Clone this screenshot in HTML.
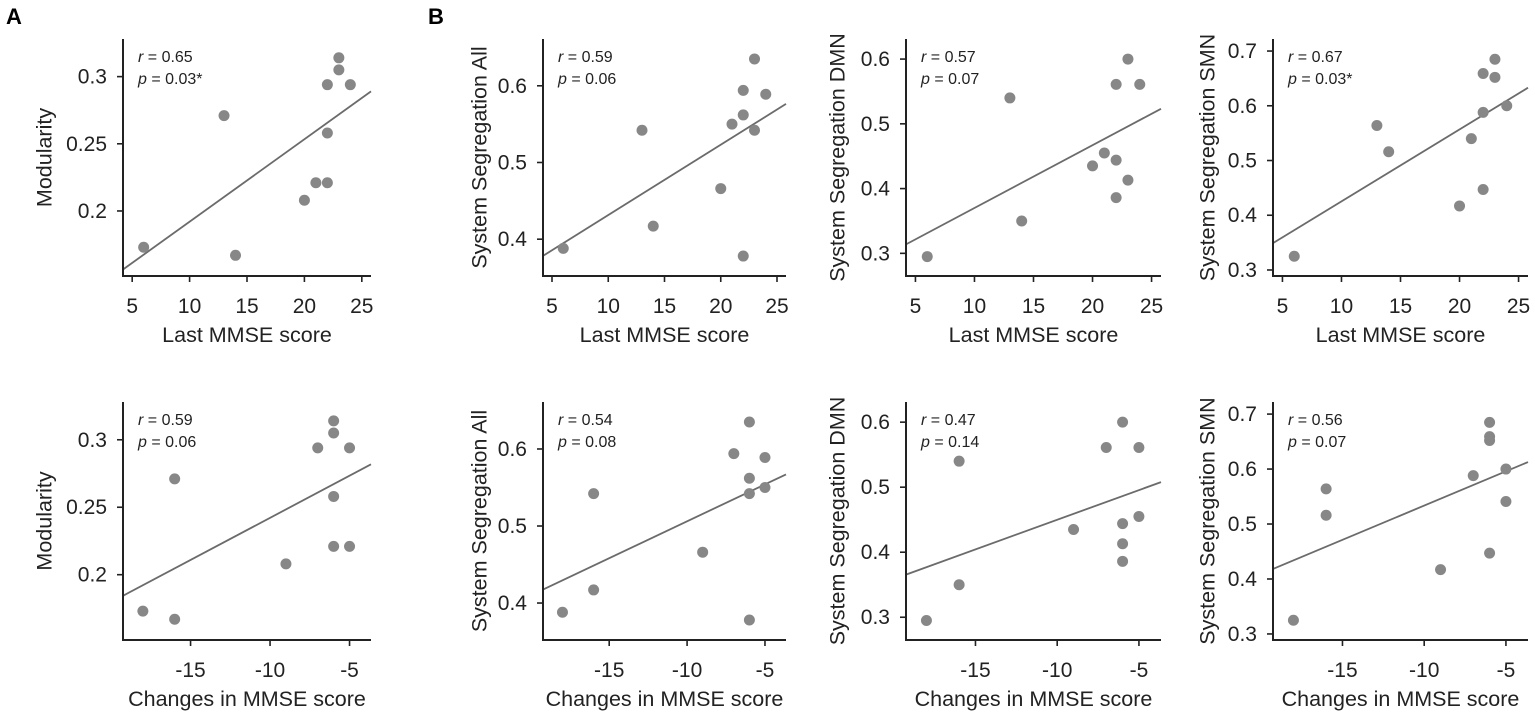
<!DOCTYPE html>
<html><head><meta charset="utf-8"><style>
html,body{margin:0;padding:0;background:#fff;}
svg{display:block;font-family:"Liberation Sans",Arial,sans-serif;}
</style></head><body>
<svg id="fig" width="1535" height="717" viewBox="0 0 1535 717">
<text x="6" y="24" font-size="22" font-weight="bold">A</text>
<text x="428" y="24" font-size="22" font-weight="bold">B</text>
</svg>
<script>
// Data arrays
const lastMMSE = [6,13,14,20,21,22,22,22,23,23,24];
const modLast = [0.173,0.271,0.167,0.208,0.221,0.221,0.258,0.294,0.305,0.314,0.294];
const allLast = [0.388,0.542,0.417,0.466,0.550,0.378,0.562,0.594,0.635,0.542,0.589];
const dmnLast = [0.295,0.540,0.350,0.435,0.455,0.386,0.444,0.561,0.600,0.413,0.561];
const smnLast = [0.325,0.564,0.516,0.417,0.540,0.447,0.588,0.659,0.685,0.652,0.600];

const changeMod = [-18,-16,-16,-9,-7,-6,-6,-6,-6,-5,-5];
const modChange = [0.173,0.271,0.167,0.208,0.294,0.314,0.305,0.258,0.221,0.294,0.221];
const changeAll = [-18,-16,-16,-9,-7,-6,-6,-6,-6,-5,-5];
const allChange = [0.388,0.542,0.417,0.466,0.594,0.635,0.562,0.542,0.378,0.589,0.550];
const changeDmn = [-18,-16,-16,-9,-7,-6,-6,-6,-6,-5,-5];
const dmnChange = [0.295,0.540,0.350,0.435,0.561,0.600,0.444,0.413,0.386,0.561,0.455];
const changeSmn = [-18,-16,-16,-9,-7,-6,-6,-6,-6,-5,-5];
const smnChange = [0.325,0.564,0.516,0.417,0.588,0.685,0.659,0.652,0.447,0.600,0.541];

const xTicksLast = [5,10,15,20,25];
const xTicksChange = [-15,-10,-5];
const yTicksMod = [0.2,0.25,0.3];
const yTicksAll = [0.4,0.5,0.6];
const yTicksDmn = [0.3,0.4,0.5,0.6];
const yTicksSmn = [0.3,0.4,0.5,0.6,0.7];
const rLabels = ['0.65','0.59','0.57','0.67','0.59','0.54','0.47','0.56'];
const pLabels = ['0.03*','0.06','0.07','0.03*','0.06','0.08','0.14','0.07'];

const NS='http://www.w3.org/2000/svg';
const svg=document.getElementById('fig');
function mk(tag,attrs,parent){const e=document.createElementNS(NS,tag);for(const k in attrs)e.setAttribute(k,attrs[k]);(parent||svg).appendChild(e);return e;}

const cols=[{x0:123,x1:371},{x0:543,x1:786},{x0:906,x1:1161},{x0:1273,x1:1528}];
const rows=[{y0:39,y1:276,lab:'Last MMSE score',xd:[4.2,25.8]},{y0:402,y1:640,lab:'Changes in MMSE score',xd:[-19.25,-3.65]}];
const yinfo=[
 {d:[0.1516,0.328],ticks:yTicksMod,lab:'Modularity',lx:46,fmt:v=>String(v)},
 {d:[0.352,0.661],ticks:yTicksAll,lab:'System Segregation All',lx:481,fmt:v=>v.toFixed(1)},
 {d:[0.265,0.631],ticks:yTicksDmn,lab:'System Segregation DMN',lx:839,fmt:v=>v.toFixed(1)},
 {d:[0.289,0.722],ticks:yTicksSmn,lab:'System Segregation SMN',lx:1209,fmt:v=>v.toFixed(1)}];
const datasets=[[lastMMSE,modLast],[lastMMSE,allLast],[lastMMSE,dmnLast],[lastMMSE,smnLast],
 [changeMod,modChange],[changeAll,allChange],[changeDmn,dmnChange],[changeSmn,smnChange]];

for(let r=0;r<2;r++)for(let c=0;c<4;c++){
 const i=r*4+c,C=cols[c],R=rows[r],Y=yinfo[c];
 const xs=v=>C.x0+(v-R.xd[0])/(R.xd[1]-R.xd[0])*(C.x1-C.x0);
 const ys=v=>R.y1-(v-Y.d[0])/(Y.d[1]-Y.d[0])*(R.y1-R.y0);
 const g=mk('g',{});
 
 
 const [X,V]=datasets[i];
 const n=X.length;let mx=0,my=0;for(let k=0;k<n;k++){mx+=X[k];my+=V[k];}mx/=n;my/=n;
 let sxy=0,sxx=0;for(let k=0;k<n;k++){sxy+=(X[k]-mx)*(V[k]-my);sxx+=(X[k]-mx)**2;}
 const b=sxy/sxx,a=my-b*mx;
 const fl=mk('line',{x1:xs(R.xd[0]),y1:ys(a+b*R.xd[0]),x2:xs(R.xd[1]),y2:ys(a+b*R.xd[1]),stroke:'#6b6b6b','stroke-width':1.8},g);
 
 
 for(let k=0;k<n;k++){
  const p=mk('circle',{cx:xs(X[k]),cy:ys(V[k]),r:5.5,fill:'#878787'},g);
  
  
 }
 const ax=mk('path',{d:`M${C.x0},${R.y0}V${R.y1}H${C.x1}`,fill:'none',stroke:'#222','stroke-width':2},g);
 
 
 const xt=r?xTicksChange:xTicksLast;
 xt.forEach(v=>{mk('line',{x1:xs(v),x2:xs(v),y1:R.y1,y2:R.y1+6,stroke:'#222','stroke-width':1.6},g);
  const t=mk('text',{x:xs(v),y:R.y1+37,'font-size':21,'text-anchor':'middle',fill:'#222'},g);t.textContent=v;
  
  });
 Y.ticks.forEach(v=>{mk('line',{x1:C.x0-6,x2:C.x0,y1:ys(v),y2:ys(v),stroke:'#222','stroke-width':1.6},g);
  const t=mk('text',{x:C.x0-16,y:ys(v)+7,'font-size':21,'text-anchor':'end',fill:'#222'},g);t.textContent=Y.fmt(v);
  
  });
 const xl=mk('text',{x:(C.x0+C.x1)/2,y:R.y1+66,'font-size':21.5,'text-anchor':'middle',fill:'#222'},g);
 xl.textContent=R.lab;
 
 
 const cy=(R.y0+R.y1)/2;
 const yl=mk('text',{x:Y.lx,y:cy,'font-size':21.5,'text-anchor':'middle',fill:'#222',transform:`rotate(-90 ${Y.lx} ${cy})`,'dominant-baseline':'middle'},g);
 yl.textContent=Y.lab;
 
 
 const t1=mk('text',{x:C.x0+15,y:R.y0+23,'font-size':16,fill:'#222'},g);
 t1.innerHTML='<tspan font-style="italic">r</tspan> = '+rLabels[i];
 
 
 const t2=mk('text',{x:C.x0+15,y:R.y0+45,'font-size':16,fill:'#222'},g);
 t2.innerHTML='<tspan font-style="italic">p</tspan> = '+pLabels[i];
 
 
}
</script>
</body></html>
